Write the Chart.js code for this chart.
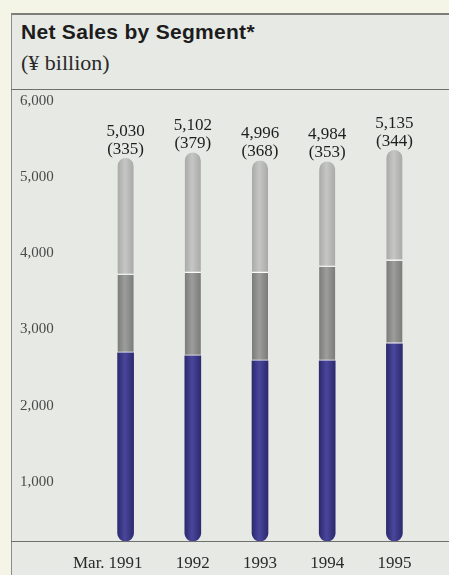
<!DOCTYPE html>
<html lang="en">
  <head>
    <meta charset="UTF-8" />
    <title>Net Sales by Segment</title>
    <script src="https://cdn.jsdelivr.net/npm/chart.js@4.4.0/dist/chart.umd.min.js"></script>
    <style>
      body { margin: 0; background: #f4f5e6; }
      .panel {
        position: absolute; left: 11px; top: 13px; width: 460px; height: 600px;
        background: #e7e9e4; border-left: 1.5px solid #8a8b86; border-top: 2px solid #7d7e7a;
      }
      .title {
        position: absolute; left: 21px; top: 20px; margin: 0;
        font: bold 21px "Liberation Sans", Arial, sans-serif; color: #1c1c1c; letter-spacing: 0.3px;
      }
      .unit {
        position: absolute; left: 21px; top: 50px;
        font: 22px "Liberation Serif", "Times New Roman", serif; color: #2a2a2a;
      }
      .rule { position: absolute; left: 11px; width: 440px; height: 0; border-top: 1.5px solid #6f706c; }
      #myChart { position: absolute; left: 0; top: 0; }
    </style>
  </head>
  <body>
    <div class="panel"></div>
    <div class="title">Net Sales by Segment*</div>
    <div class="unit">(¥ billion)</div>
    <div class="rule" style="top:89px"></div>
    <div class="rule" style="top:541px"></div>
    <canvas id="myChart" width="449" height="575"></canvas>

    <script>
// fiscal years (March year-end)
const years = ['1991', '1992', '1993', '1994', '1995'];
// stacked segments, bottom to top
const segBottom = [2470, 2430, 2365, 2365, 2590];
const segMiddle = [1025, 1090, 1155, 1235, 1090];
const segTop = [1535, 1582, 1476, 1384, 1455];
// figures printed above each bar
const totals = [5030, 5102, 4996, 4984, 5135];
const notes = [335, 379, 368, 353, 344];
const yTicks = [1000, 2000, 3000, 4000, 5000, 6000];

const serif = '"Liberation Serif", "Times New Roman", serif';

// cylinder look: darker edges, lighter middle
function shaded(edge, mid) {
  return function (c) {
    const x = c.chart.scales.x;
    if (!x || c.dataIndex === undefined) return mid;
    const cx = x.getPixelForValue(c.dataIndex);
    if (!isFinite(cx)) return mid;
    const g = c.chart.ctx.createLinearGradient(cx - 8, 0, cx + 8, 0);
    g.addColorStop(0, edge);
    g.addColorStop(0.45, mid);
    g.addColorStop(1, edge);
    return g;
  };
}

// totals and bracketed figures above the stacks
const barLabels = {
  id: 'barLabels',
  afterDatasetsDraw(chart) {
    const ctx = chart.ctx;
    const x = chart.scales.x, y = chart.scales.y;
    ctx.save();
    ctx.font = '17px ' + serif;
    ctx.fillStyle = '#1e1e1e';
    ctx.textAlign = 'center';
    ctx.textBaseline = 'alphabetic';
    totals.forEach((t, i) => {
      const px = x.getPixelForValue(i);
      const py = y.getPixelForValue(t);
      ctx.fillText(t.toLocaleString('en-US'), px, py - 22);
      ctx.fillText('(' + notes[i] + ')', px, py - 4);
    });
    // "Mar." in front of the first year
    const first = x.getPixelForValue(0);
    ctx.font = '17px ' + serif;
    ctx.fillStyle = '#2a2a2a';
    ctx.textAlign = 'right';
    ctx.textBaseline = 'middle';
    const w = ctx.measureText('1991').width;
    ctx.fillText('Mar.', first - w / 2 - 4, x.top + 12 + 10.2);
    ctx.restore();
  }
};

const ctx = document.getElementById('myChart').getContext('2d');
const myChart = new Chart(ctx, {
  type: 'bar',
  data: {
    labels: years,
    datasets: [{
      data: segBottom,
      backgroundColor: shaded('#2c2a6e', '#4a469c'),
      borderWidth: 0,
      borderRadius: { topLeft: 0, topRight: 0, bottomLeft: 8, bottomRight: 8 }
    }, {
      data: segMiddle,
      backgroundColor: shaded('#7b7c7a', '#9d9e9c'),
      borderWidth: { bottom: 1.5, top: 0, left: 0, right: 0 },
      borderRadius: 0
    }, {
      data: segTop,
      backgroundColor: shaded('#a9aaa8', '#c6c7c5'),
      borderWidth: { bottom: 1.5, top: 0, left: 0, right: 0 },
      borderRadius: { topLeft: 8, topRight: 8, bottomLeft: 0, bottomRight: 0 }
    }]
  },
  options: {
    responsive: false,
    animation: false,
    events: [],
    datasets: {
      bar: {
        barThickness: 16,
        borderSkipped: false,
        borderColor: 'rgba(255,255,255,0.85)'
      }
    },
    layout: { padding: { left: 20, right: 21, top: 84, bottom: 0 } },
    plugins: { legend: { display: false }, tooltip: { enabled: false } },
    scales: {
      x: {
        stacked: true,
        afterFit(scale) { scale.height = 34; },
        grid: { display: false, drawTicks: false },
        border: { display: false },
        ticks: {
          padding: 12,
          maxRotation: 0,
          color: '#2a2a2a',
          font: { family: serif, size: 17 }
        }
      },
      y: {
        stacked: true,
        min: 0,
        max: 6000,
        afterFit(scale) { scale.width = 72; },
        afterBuildTicks(scale) { scale.ticks = yTicks.map(v => ({ value: v })); },
        grid: { display: false, drawTicks: false },
        border: { display: false },
        ticks: {
          crossAlign: 'far',
          labelOffset: 17,
          color: '#4a4a48',
          font: { family: serif, size: 15 },
          callback: v => v.toLocaleString('en-US')
        }
      }
    }
  },
  plugins: [barLabels]
});
    </script>
  </body>
</html>
